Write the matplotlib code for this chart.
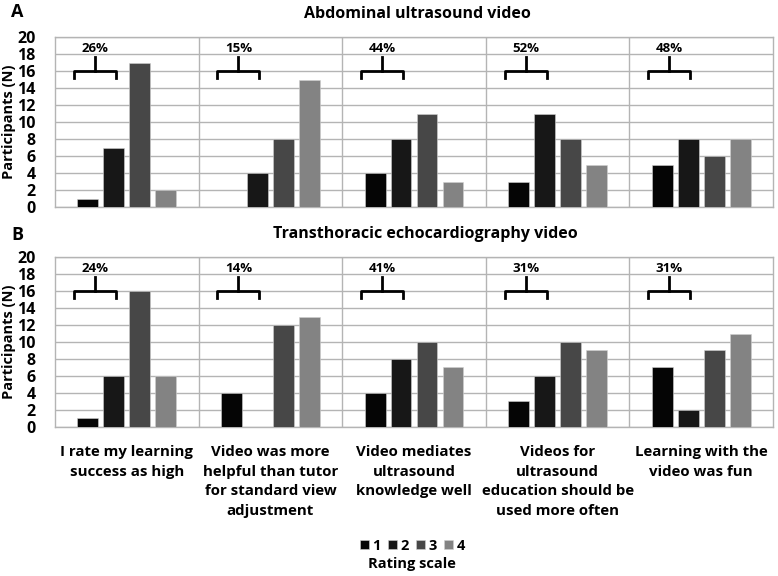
import matplotlib.pyplot as plt
import numpy as np

plt.rcParams['font.family'] = ['Open Sans', 'DejaVu Sans']
plt.rcParams['font.weight'] = 'bold'

# Data
categories = ['I rate my learning\nsuccess as high',
              'Video was more\nhelpful than tutor\nfor standard view\nadjustment',
              'Video mediates\nultrasound\nknowledge well',
              'Videos for\nultrasound\neducation should be\nused more often',
              'Learning with the\nvideo was fun']
ratings = ['1', '2', '3', '4']
abd_1 = [1, 0, 4, 3, 5]
abd_2 = [7, 4, 8, 11, 8]
abd_3 = [17, 8, 11, 8, 6]
abd_4 = [2, 15, 3, 5, 8]
abd_pct = ['26%', '15%', '44%', '52%', '48%']
tte_1 = [1, 4, 4, 3, 7]
tte_2 = [6, 0, 8, 6, 2]
tte_3 = [16, 12, 10, 10, 9]
tte_4 = [6, 13, 7, 9, 11]
tte_pct = ['24%', '14%', '41%', '31%', '31%']

colors = ['#050505', '#171717', '#474747', '#838383']
grid_c = '#b4b4b4'

fig = plt.figure(figsize=(7.78, 5.76), dpi=100)
axA = fig.add_axes([0.0707, 0.6406, 0.9229, 0.2951])
axB = fig.add_axes([0.0707, 0.2587, 0.9229, 0.2951])

x = np.arange(len(categories))
period = 0.181
width = 0.146
offsets = [-1.5 * period, -0.5 * period, 0.5 * period, 1.5 * period]


def draw_panel(ax, series, pct):
    for i, s in enumerate(series):
        ax.bar(x + offsets[i], s, width, color=colors[i], label=ratings[i],
               edgecolor='#d0d0d0', linewidth=0.4, zorder=3)
    ax.set_xlim(-0.5, len(categories) - 0.5)
    ax.set_ylim(0, 20)
    ax.set_yticks(range(0, 21, 2))
    ax.tick_params(axis='y', length=0, labelsize=11.5, pad=14)
    ax.tick_params(axis='x', length=0)
    for t in ax.get_yticklabels():
        t.set_fontweight('bold')
    ax.grid(axis='y', color=grid_c, linewidth=1.0, zorder=0)
    for k in range(1, len(categories)):
        ax.axvline(k - 0.5, color=grid_c, linewidth=1.0, zorder=1)
    for sp in ax.spines.values():
        sp.set_color(grid_c)
        sp.set_linewidth(1.0)
    ax.set_ylabel('Participants (N)', fontsize=10.5, fontweight='bold', labelpad=1)
    # brackets over rating 1 and 2
    for k in range(len(categories)):
        l = x[k] - 0.369
        r = x[k] - 0.077
        c = (l + r) / 2
        ax.plot([l, l, r, r], [15.2, 16.0, 16.0, 15.2], color='black', lw=2, zorder=4)
        ax.plot([c, c], [16.0, 17.6], color='black', lw=2, zorder=4)
        ax.text(c, 18.7, pct[k], ha='center', va='center', fontsize=9.5, fontweight='bold')


draw_panel(axA, [abd_1, abd_2, abd_3, abd_4], abd_pct)
draw_panel(axB, [tte_1, tte_2, tte_3, tte_4], tte_pct)

axA.set_xticks(x)
axA.set_xticklabels([])
axB.set_xticks(x)
axB.set_xticklabels(categories, fontsize=10.8, fontweight='bold', va='top',
                    linespacing=1.5)
axB.tick_params(axis='x', pad=13)

fig.text(0.536, 0.976, 'Abdominal ultrasound video', ha='center', va='center',
         fontsize=11.5, fontweight='bold')
fig.text(0.547, 0.594, 'Transthoracic echocardiography video', ha='center',
         va='center', fontsize=11.5, fontweight='bold')
fig.text(0.014, 0.979, 'A', ha='left', va='center', fontsize=13, fontweight='bold')
fig.text(0.014, 0.592, 'B', ha='left', va='center', fontsize=13, fontweight='bold')

handles, labels = axB.get_legend_handles_labels()
leg = fig.legend(handles, labels, loc='center', bbox_to_anchor=(0.530, 0.037),
                 ncol=4, frameon=False, fontsize=10.5, handlelength=0.6,
                 handleheight=0.6, handletextpad=0.25, columnspacing=0.5,
                 borderpad=0, labelspacing=0,
                 title='Rating scale', title_fontsize=10.5)
leg._legend_box.align = 'center'
leg._legend_box.sep = 3
leg.get_title().set_fontweight('bold')
box = leg._legend_box
box._children = box._children[::-1]
for t in leg.get_texts():
    t.set_fontweight('bold')

fig.savefig('out.png', dpi=100)
